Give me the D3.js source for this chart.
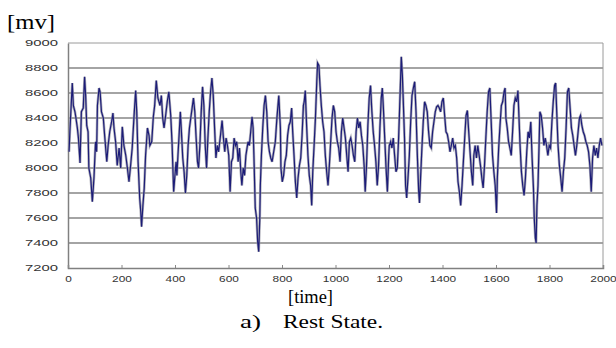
<!DOCTYPE html>
<html><head><meta charset="utf-8">
<script src="https://cdn.jsdelivr.net/npm/d3@7"></script>
<style>html,body{margin:0;padding:0;background:#fff;}svg{display:block;}</style>
</head><body>
<svg id="c" width="616" height="348"></svg>
<script>
const yTicks = [7200,7400,7600,7800,8000,8200,8400,8600,8800,9000];
const xTicks = [0,200,400,600,800,1000,1200,1400,1600,1800,2000];
const yLabel = "[mv]";
const xLabel = "[time]";
const caption = ["a)", "Rest State."];
const time = [4,7,16,20,26,29,35,39,45,50,57,62,66,70,75,78,85,91,97,103,107,110,116,120,125,132,137,145,150,156,163,168,172,178,184,191,197,203,209,216,222,228,234,240,247,253,257,262,268,272,275,280,285,290,297,303,306,313,319,324,330,336,344,349,354,359,365,371,377,384,389,395,399,404,407,411,416,420,424,429,434,439,444,449,454,459,464,469,474,479,484,488,493,498,503,508,513,518,523,528,533,538,543,548,553,558,563,570,576,581,586,591,596,601,606,611,616,621,626,631,636,641,646,650,655,660,665,673,678,683,688,692,695,700,705,709,713,717,719,723,728,733,738,743,748,753,758,763,769,775,781,788,794,796,801,806,811,816,821,826,831,836,840,845,850,855,860,865,870,875,880,883,887,892,897,902,907,911,915,920,925,930,933,938,942,947,952,957,962,967,972,977,982,987,992,997,1002,1007,1012,1017,1022,1027,1032,1037,1042,1047,1052,1057,1062,1067,1072,1077,1082,1087,1092,1097,1102,1107,1111,1116,1121,1126,1131,1136,1141,1146,1151,1156,1161,1166,1171,1175,1179,1184,1189,1194,1199,1201,1206,1211,1216,1221,1226,1231,1236,1241,1246,1250,1253,1258,1262,1266,1271,1276,1281,1286,1291,1296,1301,1306,1311,1314,1318,1323,1328,1333,1338,1343,1348,1353,1358,1363,1368,1373,1378,1383,1388,1393,1398,1403,1408,1413,1418,1423,1428,1433,1438,1443,1448,1453,1458,1463,1468,1473,1478,1483,1488,1493,1498,1503,1508,1513,1517,1522,1527,1532,1537,1542,1547,1552,1557,1562,1567,1572,1577,1582,1587,1592,1597,1602,1605,1610,1615,1620,1625,1630,1634,1637,1642,1647,1652,1657,1662,1667,1672,1677,1682,1686,1690,1695,1700,1705,1710,1715,1720,1725,1730,1735,1740,1743,1747,1750,1753,1757,1761,1764,1769,1774,1779,1784,1789,1794,1799,1804,1809,1814,1819,1823,1827,1832,1837,1842,1847,1852,1857,1862,1867,1872,1877,1882,1887,1892,1897,1902,1907,1912,1916,1921,1926,1931,1936,1941,1946,1951,1956,1961,1966,1971,1976,1981,1986,1991,1996];
const mv = [8130,8290,8680,8500,8450,8410,8320,8240,8040,8450,8480,8730,8580,8340,8290,8000,7920,7730,7920,8210,8130,8500,8640,8610,8450,8400,8260,8050,8180,8290,8370,8440,8320,8210,8020,8160,8000,8330,8180,8100,8000,7890,8020,8160,8420,8620,8450,8050,7760,7650,7530,7700,7840,8100,8320,8260,8180,8210,8410,8500,8700,8560,8500,8580,8400,8320,8420,8530,8610,8420,8200,7810,7920,8050,7940,8100,8290,8450,8290,8080,7970,7800,7940,8180,8320,8400,8480,8560,8450,8240,8050,8000,8180,8450,8650,8500,8180,8000,8240,8450,8610,8720,8580,8320,8080,8180,8130,8260,8380,8240,8130,8240,8180,8100,7810,8050,8080,8240,8180,8210,8050,8160,7970,7860,8000,7940,8100,8210,8180,8290,8410,8320,8100,7680,7600,7410,7330,7600,7860,8100,8320,8500,8580,8450,8210,8130,8080,8050,8130,8210,8400,8580,8320,8000,7890,7940,8050,8100,8260,8340,8370,8480,8290,8100,7890,7760,7920,8020,8080,8260,8500,8530,8620,8340,8100,7940,7860,7700,7970,8180,8400,8690,8840,8820,8660,8500,8370,8290,8100,7970,7860,8020,8210,8400,8500,8450,8290,8210,8160,8050,8290,8400,8320,8240,8100,7970,8210,8240,8180,8100,8050,8290,8400,8320,8370,8260,8180,8020,7810,8020,8340,8560,8660,8450,8290,8180,8050,7860,8020,8320,8560,8640,8480,8240,8000,7810,8100,8180,8210,8160,8240,8100,7970,8000,8240,8560,8890,8740,8560,8240,7860,7760,7920,8100,8370,8580,8640,8690,8450,8100,7810,7720,7920,8160,8370,8530,8500,8450,8290,8180,8160,8290,8370,8450,8490,8500,8480,8450,8530,8560,8420,8290,8270,8210,8130,8180,8240,8160,8180,8080,7890,7810,7700,7860,8050,8240,8420,8460,8290,8130,7970,7860,8100,8180,8080,8180,8100,8020,7920,7840,8020,8240,8450,8610,8640,8370,8100,7970,7860,7640,7920,8160,8340,8500,8530,8610,8640,8400,8320,8210,8160,8100,8290,8500,8560,8530,8620,8400,8180,7970,7860,7780,7920,8130,8290,8240,8370,8080,7840,7600,7440,7400,7700,7860,8180,8450,8420,8320,8180,8240,8180,8100,8180,8160,8370,8530,8660,8680,8450,8180,8020,7920,7810,7970,8080,8320,8610,8640,8480,8320,8260,8180,8100,8180,8290,8400,8420,8340,8290,8260,8210,8180,8130,8020,7810,8080,8180,8100,8160,8080,8180,8240,8180];

const svg = d3.select("#c");
const x = d3.scaleLinear().domain([0,2000]).range([68,603]);
const y = d3.scaleLinear().domain([7200,9000]).range([268,43]);

// gridlines
svg.append("g").selectAll("line").data(yTicks.filter(v=>v>7200 && v<9000)).join("line")
  .attr("x1",x(0)).attr("x2",x(2000)).attr("y1",d=>y(d)).attr("y2",d=>y(d))
  .attr("stroke","#4a4a4a").attr("stroke-width",1.2);
// top & right border
svg.append("line").attr("x1",x(0)).attr("x2",x(2000)).attr("y1",y(9000)).attr("y2",y(9000)).attr("stroke","#9a9a9a").attr("stroke-width",1);
svg.append("line").attr("x1",x(2000)).attr("x2",x(2000)).attr("y1",y(9000)).attr("y2",y(7200)).attr("stroke","#9a9a9a").attr("stroke-width",1);

// y axis
const ya = svg.append("g").attr("transform",`translate(${x(0)},0)`)
  .call(d3.axisLeft(y).tickValues(yTicks).tickSize(0).tickPadding(10).tickFormat(d3.format("d")));
ya.select(".domain").attr("stroke","#808080").attr("stroke-width",1.5);
ya.selectAll("text").attr("font-family","Arial, 'Liberation Sans', sans-serif").attr("font-size",9)
  .attr("fill","#333").attr("textLength",33).attr("lengthAdjust","spacingAndGlyphs");

// x axis
const xa = svg.append("g").attr("transform",`translate(0,${y(7200)})`)
  .call(d3.axisBottom(x).tickValues(xTicks).tickSize(-3).tickPadding(8).tickFormat(d3.format("d")));
xa.select(".domain").attr("stroke","#808080").attr("stroke-width",1.5);
xa.selectAll(".tick line").attr("stroke","#888");
xa.selectAll("text").attr("font-family","Arial, 'Liberation Sans', sans-serif").attr("font-size",9)
  .attr("fill","#333").attr("textLength",d=>String(d).length*6.6).attr("lengthAdjust","spacingAndGlyphs");

// line
const data = time.map((t,i)=>({t, v: mv[i]}));
const line = d3.line().x(d=>x(d.t)).y(d=>y(d.v));
svg.append("path").datum(data).attr("d",line).attr("fill","none").attr("stroke","#9a9aa8").attr("stroke-width",2.6).attr("stroke-opacity",0.8);
svg.append("path").datum(data).attr("d",line).attr("fill","none").attr("stroke","#1c1c78").attr("stroke-width",1.2);

// labels
const serif = "'Liberation Serif', 'Times New Roman', serif";
svg.append("text").attr("x",7).attr("y",29).attr("font-family",serif).attr("font-size",20)
  .attr("textLength",48).attr("lengthAdjust","spacingAndGlyphs").text(yLabel);
svg.append("text").attr("x",288).attr("y",303).attr("font-family",serif).attr("font-size",18)
  .attr("textLength",45).attr("lengthAdjust","spacingAndGlyphs").text(xLabel);
svg.append("text").attr("x",240).attr("y",328).attr("font-family",serif).attr("font-size",19)
  .attr("textLength",21).attr("lengthAdjust","spacingAndGlyphs").text(caption[0]);
svg.append("text").attr("x",283).attr("y",328).attr("font-family",serif).attr("font-size",19)
  .attr("textLength",100).attr("lengthAdjust","spacingAndGlyphs").text(caption[1]);
</script>
</body></html>
